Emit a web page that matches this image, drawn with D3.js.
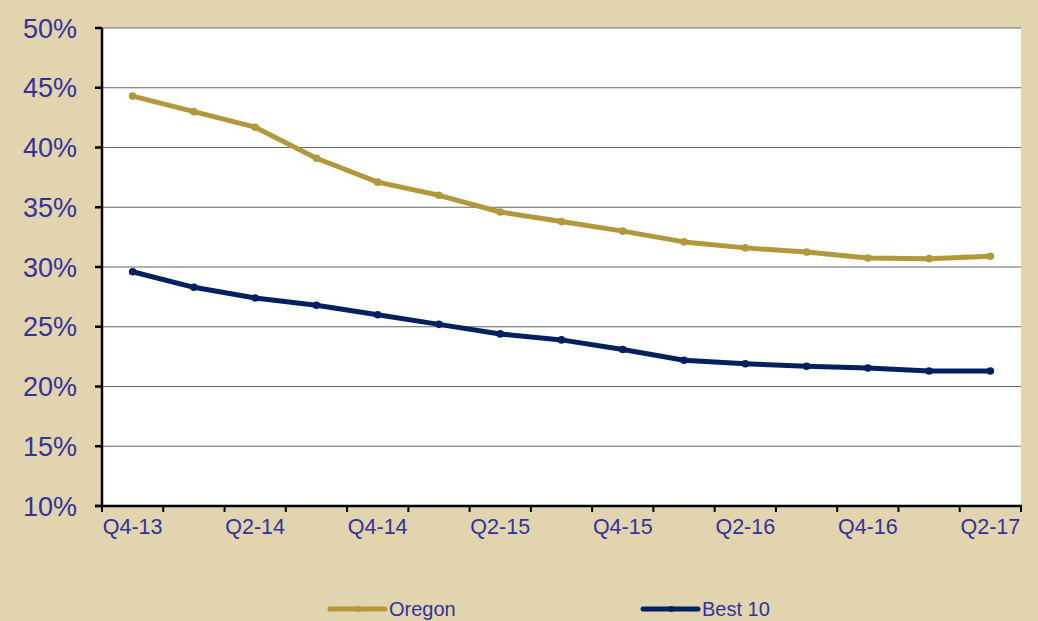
<!DOCTYPE html>
<html>
<head>
<meta charset="utf-8">
<script src="https://cdn.jsdelivr.net/npm/d3@7"></script>
<style>
  html, body { margin: 0; padding: 0; background: #e2d4ae; }
  svg { display: block; font-family: "Liberation Sans", Arial, sans-serif; }
</style>
</head>
<body>
<svg id="chart" width="1038" height="621"></svg>
<script>
const quarters = ["Q4-13","Q1-14","Q2-14","Q3-14","Q4-14","Q1-15","Q2-15","Q3-15","Q4-15","Q1-16","Q2-16","Q3-16","Q4-16","Q1-17","Q2-17"];
const oregon = [44.3, 43.0, 41.7, 39.1, 37.1, 36.0, 34.6, 33.8, 33.0, 32.1, 31.6, 31.25, 30.75, 30.7, 30.9];
const best10 = [29.6, 28.3, 27.4, 26.8, 26.0, 25.2, 24.4, 23.9, 23.1, 22.2, 21.9, 21.7, 21.55, 21.3, 21.3];
const yTicks = [10, 15, 20, 25, 30, 35, 40, 45, 50];
const series = [
  { name: "Oregon", values: oregon, color: "#b3973b" },
  { name: "Best 10", values: best10, color: "#00205f" }
];

const svg = d3.select("#chart");
const m = { l: 102, r: 1021, t: 28, b: 506 };
const txt = "#333399";

const x = d3.scaleBand().domain(quarters).range([m.l, m.r]);
const y = d3.scaleLinear().domain([10, 50]).range([m.b, m.t]);

svg.append("rect").attr("x", m.l).attr("y", m.t).attr("width", m.r - m.l).attr("height", m.b - m.t).attr("fill", "#fff");

// gridlines
svg.append("g").selectAll("line").data(yTicks.slice(1)).enter().append("line")
  .attr("x1", m.l).attr("x2", m.r).attr("y1", d => y(d)).attr("y2", d => y(d))
  .attr("stroke", "#666").attr("stroke-width", 1.2);

// y axis
const ya = svg.append("g");
ya.append("line").attr("x1", m.l).attr("x2", m.l).attr("y1", m.t).attr("y2", m.b + 1).attr("stroke", "#000").attr("stroke-width", 2.5);
ya.selectAll(".tk").data(yTicks).enter().append("line")
  .attr("x1", m.l - 7).attr("x2", m.l).attr("y1", d => y(d)).attr("y2", d => y(d))
  .attr("stroke", "#000").attr("stroke-width", 2.5);
ya.selectAll("text").data(yTicks).enter().append("text")
  .attr("x", 77).attr("y", d => y(d)).attr("dy", "0.36em").attr("text-anchor", "end")
  .attr("font-size", 27).attr("fill", txt).text(d => d + "%");

// x axis
const xa = svg.append("g");
xa.append("line").attr("x1", m.l - 7).attr("x2", m.r + 1).attr("y1", m.b).attr("y2", m.b).attr("stroke", "#000").attr("stroke-width", 2.5);
const bounds = quarters.map(q => x(q)).concat([m.r]);
xa.selectAll(".tk").data(bounds).enter().append("line")
  .attr("x1", d => d).attr("x2", d => d).attr("y1", m.b).attr("y2", m.b + 6)
  .attr("stroke", "#000").attr("stroke-width", 2);
xa.selectAll("text").data(quarters.filter((q, i) => i % 2 === 0)).enter().append("text")
  .attr("x", d => x(d) + x.bandwidth() / 2).attr("y", m.b + 28).attr("text-anchor", "middle")
  .attr("font-size", 21.5).attr("fill", txt).text(d => d);

// lines
const line = d3.line().x((d, i) => x(quarters[i]) + x.bandwidth() / 2).y(d => y(d));
series.forEach(s => {
  const g = svg.append("g");
  g.append("path").attr("d", line(s.values)).attr("fill", "none").attr("stroke", s.color)
    .attr("stroke-width", 5).attr("stroke-linejoin", "round").attr("stroke-linecap", "round");
  g.selectAll("circle").data(s.values).enter().append("circle")
    .attr("cx", (d, i) => x(quarters[i]) + x.bandwidth() / 2).attr("cy", d => y(d)).attr("r", 3.8).attr("fill", s.color);
});

// legend
const legendX = [330, 643];
series.forEach((s, i) => {
  const g = svg.append("g").attr("transform", `translate(${legendX[i]},609)`);
  g.append("line").attr("x1", 0).attr("x2", 55).attr("stroke", s.color).attr("stroke-width", 5).attr("stroke-linecap", "round");
  g.append("circle").attr("cx", 28).attr("r", 3).attr("fill", s.color);
  g.append("text").attr("x", 59).attr("dy", "0.36em").attr("font-size", 20).attr("fill", txt).text(s.name);
});
</script>
</body>
</html>
